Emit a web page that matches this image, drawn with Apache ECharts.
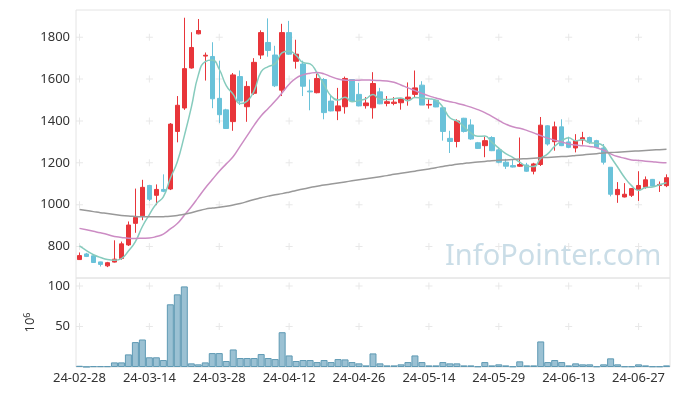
<!DOCTYPE html>
<html><head><meta charset="utf-8">
<script src="https://cdn.jsdelivr.net/npm/echarts@6/dist/echarts.min.js"></script>
<style>html,body{margin:0;padding:0;background:#fff}#c{width:680px;height:396px}</style>
</head><body><div id="c"></div>
<script>
const dates = ['24-02-28','24-02-29','24-03-04','24-03-05','24-03-06','24-03-07','24-03-08','24-03-11','24-03-12','24-03-13',
'24-03-14','24-03-15','24-03-18','24-03-19','24-03-20','24-03-21','24-03-22','24-03-25','24-03-26','24-03-27',
'24-03-28','24-03-29','24-04-01','24-04-02','24-04-03','24-04-04','24-04-05','24-04-08','24-04-09','24-04-11',
'24-04-12','24-04-15','24-04-16','24-04-17','24-04-18','24-04-19','24-04-22','24-04-23','24-04-24','24-04-25',
'24-04-26','24-04-29','24-04-30','24-05-02','24-05-03','24-05-07','24-05-08','24-05-09','24-05-10','24-05-13',
'24-05-14','24-05-16','24-05-17','24-05-20','24-05-21','24-05-22','24-05-23','24-05-24','24-05-27','24-05-28',
'24-05-29','24-05-30','24-05-31','24-06-03','24-06-04','24-06-05','24-06-07','24-06-10','24-06-11','24-06-12',
'24-06-13','24-06-14','24-06-17','24-06-18','24-06-19','24-06-20','24-06-21','24-06-24','24-06-25','24-06-26',
'24-06-27','24-06-28','24-07-01','24-07-02','24-07-03'];

const opens = [738,765,756,727,708,726,743,808,911,947,
1092,1045,1073,1075,1350,1462,1653,1816,1710,1708,
1508,1453,1397,1612,1468,1532,1715,1775,1715,1547,
1822,1685,1672,1543,1535,1598,1495,1448,1468,1598,
1527,1473,1463,1539,1484,1484,1487,1505,1527,1571,
1476,1499,1463,1317,1302,1413,1381,1296,1282,1321,
1262,1203,1187,1184,1190,1160,1192,1377,1301,1372,
1300,1271,1309,1321,1306,1271,1179,1048,1037,1045,
1072,1084,1121,1092,1091];
const closes = [757,753,724,715,723,740,813,903,939,1083,
1026,1073,1064,1385,1475,1650,1751,1832,1714,1506,
1430,1364,1620,1495,1565,1680,1822,1737,1568,1822,
1719,1719,1566,1539,1603,1440,1448,1472,1603,1495,
1472,1486,1579,1482,1492,1490,1505,1514,1558,1476,
1479,1467,1350,1302,1400,1350,1314,1269,1306,1258,
1203,1184,1180,1192,1160,1195,1380,1290,1372,1282,
1274,1306,1320,1298,1274,1203,1050,1073,1050,1077,
1092,1119,1089,1097,1129];
const highs = [772,770,760,728,727,830,824,920,1077,1119,
1095,1097,1145,1390,1519,1893,1824,1887,1727,1776,
1688,1458,1629,1641,1590,1700,1833,1890,1759,1864,
1878,1788,1688,1598,1625,1605,1522,1558,1612,1600,
1582,1514,1633,1558,1519,1514,1508,1584,1641,1590,
1503,1500,1466,1353,1408,1415,1408,1300,1325,1327,
1274,1219,1216,1321,1200,1200,1419,1380,1397,1408,
1325,1337,1348,1325,1310,1290,1180,1108,1103,1080,
1160,1135,1123,1111,1145];
const lows = [736,750,722,705,702,724,737,803,866,926,
1018,998,1060,1070,1298,1453,1650,1814,1593,1461,
1390,1362,1353,1476,1396,1525,1696,1707,1562,1519,
1716,1650,1519,1451,1532,1408,1446,1404,1435,1492,
1470,1459,1411,1480,1470,1475,1454,1473,1514,1476,
1459,1466,1306,1247,1274,1345,1310,1266,1227,1256,
1198,1171,1178,1181,1157,1145,1185,1282,1258,1280,
1270,1250,1287,1290,1270,1192,1040,1009,1035,1037,
1018,1077,1087,1061,1084];

const ma5 = [803,781,761,748,738,735,743,779,824,896,
953,1005,1037,1126,1205,1329,1465,1619,1684,1691,
1647,1569,1527,1483,1495,1545,1636,1660,1674,1726,
1734,1713,1679,1673,1629,1573,1519,1500,1513,1492,
1498,1506,1527,1503,1502,1506,1510,1497,1512,1509,
1506,1499,1466,1415,1400,1374,1343,1327,1328,1299,
1270,1244,1226,1203,1184,1182,1221,1243,1279,1304,
1320,1305,1311,1296,1294,1280,1229,1180,1130,1091,
1068,1082,1085,1095,1105];
const ma20 = [887,880,873,866,858,848,844,840,839,840,
841,848,860,885,910,950,990,1035,1080,1120,
1160,1195,1230,1280,1330,1380,1425,1460,1495,1535,
1575,1605,1620,1628,1632,1625,1612,1600,1595,1594,
1595,1596,1594,1593,1591,1585,1572,1558,1545,1532,
1520,1510,1500,1492,1485,1476,1466,1454,1440,1422,
1403,1385,1372,1365,1355,1343,1330,1318,1308,1300,
1290,1285,1282,1278,1272,1260,1243,1230,1222,1214,
1211,1208,1205,1202,1200];
const ma120 = [977,972,967,962,958,953,949,946,944,942,
942,942,943,945,949,954,962,971,979,984,
988,993,999,1006,1015,1025,1033,1041,1048,1053,
1060,1068,1075,1082,1088,1094,1099,1104,1109,1114,
1119,1124,1129,1134,1139,1145,1150,1155,1160,1166,
1171,1177,1183,1188,1193,1197,1201,1204,1207,1210,
1212,1214,1216,1218,1220,1222,1224,1226,1228,1230,
1232,1235,1238,1241,1244,1247,1249,1251,1253,1255,
1257,1259,1261,1263,1265];

const volumes = [1.5,0.3,1,1,1,5.7,5.7,15.6,30.8,34,
12,12,8.6,77.5,89.8,99.6,4.5,3.3,5.7,17.2,
17.2,7.4,21.7,11.1,11.1,11.1,16,11.1,9.8,43,
14.3,7.4,8.6,8.6,6.1,8.6,6.1,9.8,9.4,6.1,
4.5,2,16.8,4.5,2,2,3.3,6.1,14.3,6.1,
2,2,6.1,4.5,4.5,2,2,0.8,6.1,2,
3.3,2,0.8,7,2,2,31.6,6.1,8.6,6.1,
2,4.5,3.3,3.3,0.8,3.3,10.7,3.3,0.8,0.8,
3.3,2,0.8,0.8,2];

const priceTicks = [800,1000,1200,1400,1600,1800];
const volTicks = [50,100];
const labelStep = 10;

const candleData = opens.map((o,i)=>[o, closes[i], lows[i], highs[i]]);
const labelIdx = [];
for (let i=0;i<dates.length;i+=labelStep) labelIdx.push(i);
const crossMain = [];
labelIdx.forEach(i=>priceTicks.forEach(v=>crossMain.push([i,v])));
const crossVol = [];
labelIdx.forEach(i=>volTicks.forEach(v=>crossVol.push([i,v])));

const plus = 'path://M3,0h1v3h3v1h-3v3h-1v-3h-3v-1h3z';
const font = 'Noto Sans';
const chart = echarts.init(document.getElementById('c'), null, {renderer:'canvas'});
chart.setOption({
  animation:false,
  backgroundColor:'#fff',
  grid:[
    {left:76,right:10,top:10,height:268,show:true,borderColor:'#e4e4e4',borderWidth:1},
    {left:76,right:10,top:278,height:89,show:true,borderColor:'#e4e4e4',borderWidth:1}
  ],
  xAxis:[
    {type:'category',data:dates,gridIndex:0,axisLine:{show:false},axisTick:{show:false},axisLabel:{show:false},splitLine:{show:false}},
    {type:'category',data:dates,gridIndex:1,axisLine:{show:false},axisTick:{show:false},splitLine:{show:false},
     axisLabel:{interval:labelStep-1,color:'#333',fontSize:13,fontFamily:font,margin:5}}
  ],
  yAxis:[
    {type:'value',gridIndex:0,min:650,max:1930,interval:50,axisLine:{show:false},axisTick:{show:false},splitLine:{show:false},
     axisLabel:{color:'#333',fontSize:13,fontFamily:font,margin:6,formatter:v=>priceTicks.indexOf(v)>=0?String(v):''}},
    {type:'value',gridIndex:1,min:0,max:110,interval:50,axisLine:{show:false},axisTick:{show:false},splitLine:{show:false},
     axisLabel:{color:'#333',fontSize:13,fontFamily:font,margin:6,showMinLabel:false,showMaxLabel:false},
     name:'{a|10}{b|6}',nameLocation:'middle',nameGap:36,nameRotate:90,
     nameTextStyle:{rich:{a:{fontSize:13,fontFamily:font,color:'#333'},b:{fontSize:9,fontFamily:font,color:'#333',verticalAlign:'top',padding:[0,0,6,0]}}}}
  ],
  graphic:[{type:'text',left:445,top:242,z:0,silent:true,style:{text:'InfoPointer.com',font:'29px "Noto Sans"',fill:'rgba(150,188,207,0.5)'}}],
  series:[
    {type:'scatter',xAxisIndex:0,yAxisIndex:0,data:crossMain,symbol:plus,symbolSize:7,itemStyle:{color:'#e2e2e2'},silent:true,z:1},
    {type:'scatter',xAxisIndex:1,yAxisIndex:1,data:crossVol,symbol:plus,symbolSize:7,itemStyle:{color:'#e2e2e2'},silent:true,z:1},
    {type:'candlestick',xAxisIndex:0,yAxisIndex:0,data:candleData,barWidth:5,z:3,
     itemStyle:{color:'#e8353a',color0:'#6ac2d9',borderColor:'#e8353a',borderColor0:'#6ac2d9',borderWidth:1}},
    {type:'line',xAxisIndex:0,yAxisIndex:0,data:ma5,smooth:true,symbol:'none',z:4,lineStyle:{color:'#86cbbd',width:1.5}},
    {type:'line',xAxisIndex:0,yAxisIndex:0,data:ma20,smooth:true,symbol:'none',z:4,lineStyle:{color:'#cc8cc4',width:1.5}},
    {type:'line',xAxisIndex:0,yAxisIndex:0,data:ma120,smooth:true,symbol:'none',z:4,lineStyle:{color:'#999999',width:1.5}},
    {type:'bar',xAxisIndex:1,yAxisIndex:1,data:volumes,barCategoryGap:'0%',z:3,
     itemStyle:{color:'rgba(130,178,200,0.8)',borderColor:'#5f9ab4',borderWidth:1}}
  ]
});
</script></body></html>
